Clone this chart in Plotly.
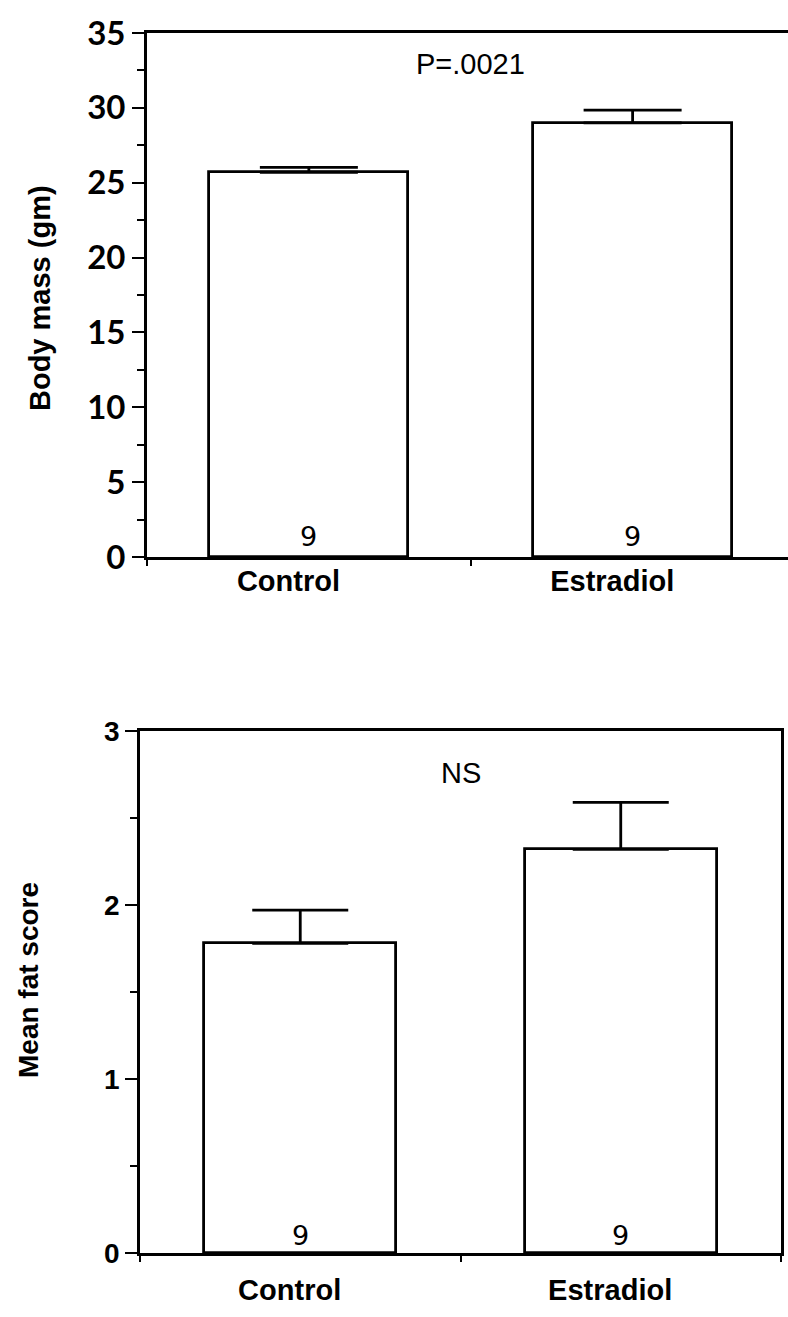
import plotly.graph_objects as go

# Groups and measurements
groups = ["Control", "Estradiol"]
n_per_group = [9, 9]

body_mass_mean = [25.7, 29.0]
body_mass_se = [0.33, 0.85]

fat_score_mean = [1.78, 2.32]
fat_score_se = [0.19, 0.27]

body_mass_note = "P=.0021"
fat_score_note = "NS"

x_pos = list(range(len(groups)))

BLACK = "#000000"
TICK_FONT = "Lato"
BOLD_FONT = "Liberation Sans"

fig = go.Figure()

# Upper panel: body mass
fig.add_trace(go.Bar(
    x=x_pos, y=body_mass_mean, width=0.615,
    marker=dict(color="white", line=dict(color=BLACK, width=2.8)),
    error_y=dict(type="data", array=body_mass_se, arrayminus=[0] * len(groups),
                 symmetric=False, color=BLACK, thickness=2.8, width=49),
    xaxis="x", yaxis="y", showlegend=False, hoverinfo="skip",
))

# Lower panel: fat score
fig.add_trace(go.Bar(
    x=x_pos, y=fat_score_mean, width=0.60,
    marker=dict(color="white", line=dict(color=BLACK, width=2.8)),
    error_y=dict(type="data", array=fat_score_se, arrayminus=[0] * len(groups),
                 symmetric=False, color=BLACK, thickness=2.8, width=48),
    xaxis="x2", yaxis="y2", showlegend=False, hoverinfo="skip",
))

H = 1317
W = 788

def frac_y(px):
    return 1 - px / H

annotations = []
for i, n in enumerate(n_per_group):
    annotations.append(dict(x=i, y=0, xref="x", yref="y", text=str(n), showarrow=False,
                            yanchor="bottom", yshift=3,
                            font=dict(family="DejaVu Sans", size=27, color=BLACK)))
    annotations.append(dict(x=i, y=0, xref="x2", yref="y2", text=str(n), showarrow=False,
                            yanchor="bottom", yshift=0,
                            font=dict(family="DejaVu Sans", size=27, color=BLACK)))

annotations.append(dict(x=0.5, y=32.9, xref="x", yref="y", text=body_mass_note,
                        showarrow=False, xanchor="center", yanchor="middle",
                        font=dict(family=BOLD_FONT, size=29, color=BLACK)))
annotations.append(dict(x=0.5, y=2.76, xref="x2", yref="y2", text=fat_score_note,
                        showarrow=False, xanchor="center", yanchor="middle",
                        font=dict(family=BOLD_FONT, size=29, color=BLACK)))

# Axis titles
annotations.append(dict(x=40 / W, y=frac_y(298), xref="paper", yref="paper",
                        xanchor="center", yanchor="middle",
                        text="<b>Body mass (gm)</b>", textangle=-90, showarrow=False,
                        font=dict(family=BOLD_FONT, size=29, color=BLACK)))
annotations.append(dict(x=28 / W, y=frac_y(980), xref="paper", yref="paper",
                        xanchor="center", yanchor="middle",
                        text="<b>Mean fat score</b>", textangle=-90, showarrow=False,
                        font=dict(family=BOLD_FONT, size=28, color=BLACK)))

def x_axis(domain, rng, anchor, label_pos, standoff):
    return dict(
        domain=domain, range=rng, anchor=anchor, mirror=True,
        tickmode="array", tickvals=label_pos,
        ticktext=["<b>%s</b>" % g for g in groups],
        ticks="", showgrid=False, zeroline=False, automargin=False,
        showline=True, linecolor=BLACK, linewidth=2.8,
        tickfont=dict(family=BOLD_FONT, size=29, color=BLACK),
        ticklabelstandoff=standoff,
        minor=dict(tickmode="array", tickvals=[-0.5, 0.5, 1.5], ticks="outside",
                   ticklen=6, tickwidth=2.4, tickcolor=BLACK, showgrid=False),
        fixedrange=True,
    )

fig.update_layout(
    width=W, height=H,
    margin=dict(l=0, r=0, t=0, b=0, autoexpand=False),
    paper_bgcolor="white", plot_bgcolor="white",
    bargap=0,
    xaxis=x_axis([147 / W, 1.0], [-0.5, 1.48], "y",
                 [p - 0.063 for p in x_pos], -4),
    yaxis=dict(domain=[frac_y(557), frac_y(33)], range=[0, 35],
               tickmode="linear", tick0=0, dtick=5,
               ticks="outside", ticklen=12, tickwidth=2.4, tickcolor=BLACK,
               showline=True, linecolor=BLACK, linewidth=2.8, mirror=False,
               showgrid=False, zeroline=False, anchor="x", automargin=False,
               tickfont=dict(family=TICK_FONT, size=33, color=BLACK),
               tickprefix="<b>", ticksuffix="</b>",
               ticklabelstandoff=0, fixedrange=True,
               minor=dict(tickmode="linear", tick0=2.5, dtick=5, ticks="outside",
                          ticklen=7, tickwidth=2.4, tickcolor=BLACK, showgrid=False)),
    xaxis2=x_axis([140 / W, 781 / W], [-0.5, 1.5], "y2",
                  [p - 0.033 for p in x_pos], 9),
    yaxis2=dict(domain=[frac_y(1253), frac_y(731)], range=[0, 3],
                tickmode="linear", tick0=0, dtick=1,
                ticks="outside", ticklen=12, tickwidth=2.4, tickcolor=BLACK,
                showline=True, linecolor=BLACK, linewidth=2.8, mirror=True,
                showgrid=False, zeroline=False, anchor="x2", automargin=False,
                tickfont=dict(family=BOLD_FONT, size=28, color=BLACK),
                tickprefix="<b>", ticksuffix="</b>",
                ticklabelstandoff=0, fixedrange=True,
                minor=dict(tickmode="linear", tick0=0.5, dtick=1, ticks="outside",
                           ticklen=7, tickwidth=2.4, tickcolor=BLACK, showgrid=False)),
    annotations=annotations,
)

fig.write_html("out.html", config={"displayModeBar": False})
